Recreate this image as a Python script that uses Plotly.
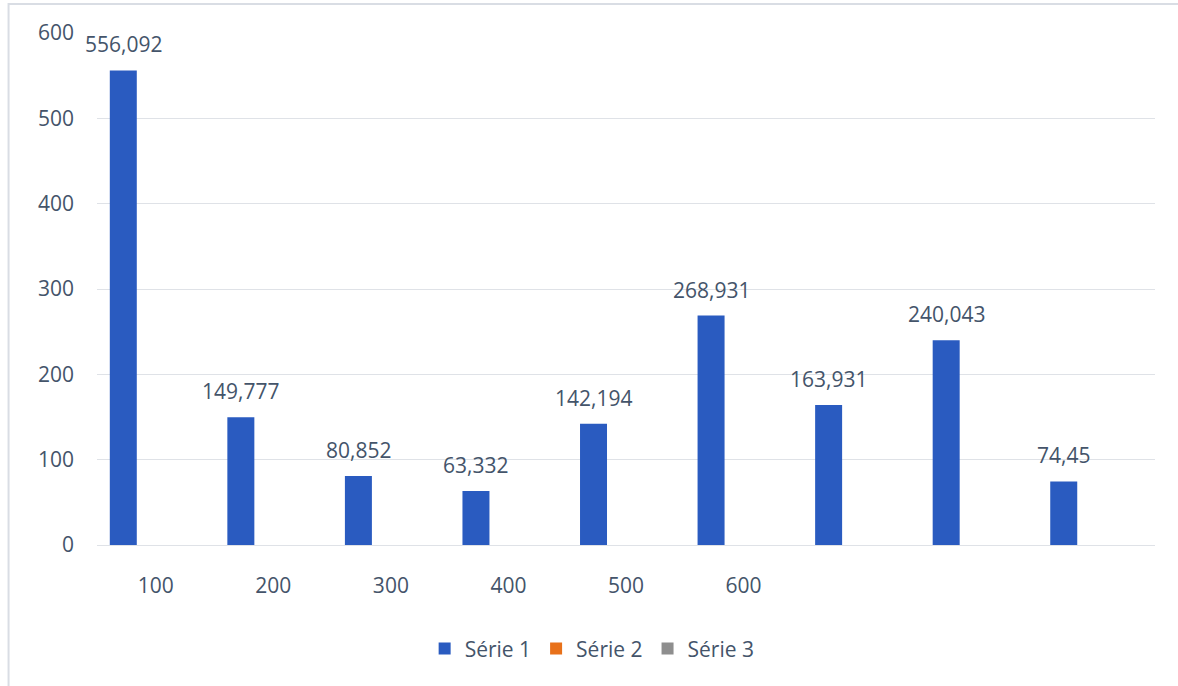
import plotly.graph_objects as go

# Category labels (last three slots carry no label)
categories = ["100", "200", "300", "400", "500", "600", "", "", ""]
serie_1 = [556.092, 149.777, 80.852, 63.332, 142.194, 268.931, 163.931, 240.043, 74.45]
serie_2 = [None] * 9
serie_3 = [None] * 9
value_labels = ["556,092", "149,777", "80,852", "63,332", "142,194",
                "268,931", "163,931", "240,043", "74,45"]
y_ticks = [0, 100, 200, 300, 400, 500, 600]

TEXT = "#44546a"
GRID = "#dfe2e7"
FONT = "Open Sans"
FS = 21

BARGAP = 0.171
GROUPGAP = 0.169
N_SERIES = 3

positions = list(range(len(categories)))

fig = go.Figure()
fig.add_trace(go.Bar(name="Série 1", x=positions, y=serie_1,
                     marker=dict(color="#2a5bc0", line=dict(width=0))))
fig.add_trace(go.Bar(name="Série 2", x=positions, y=serie_2,
                     marker=dict(color="#e8711a", line=dict(width=0))))
fig.add_trace(go.Bar(name="Série 3", x=positions, y=serie_3,
                     marker=dict(color="#8e8e8e", line=dict(width=0))))

# Value labels sit above the first bar of each group
slot = (1 - BARGAP) / N_SERIES
first_offset = -(1 - BARGAP) / 2 + slot / 2
for xi, v, lab in zip(positions, serie_1, value_labels):
    fig.add_annotation(x=xi + first_offset, y=v, text=lab, showarrow=False,
                       xref="x", yref="y", yanchor="bottom", yshift=10,
                       font=dict(family=FONT, size=FS, color=TEXT))

# Light outer frame of the chart area
fig.add_shape(type="rect", xref="paper", yref="paper",
              x0=-0.0836, x1=1.2, y0=-0.5, y1=1.0566,
              line=dict(color="#d9dde4", width=2), fillcolor="rgba(0,0,0,0)",
              layer="below")

fig.update_layout(
    width=1178, height=686,
    margin=dict(l=97, r=23, t=33, b=141),
    paper_bgcolor="white", plot_bgcolor="white",
    barmode="group", bargap=BARGAP, bargroupgap=GROUPGAP,
    font=dict(family=FONT, size=FS, color=TEXT),
    showlegend=True,
    legend=dict(orientation="h", x=0.468, xanchor="center", y=-0.203,
                yanchor="middle", font=dict(family=FONT, size=FS, color=TEXT),
                itemclick=False, traceorder="normal", itemwidth=30),
    xaxis=dict(range=[-0.5, len(categories) - 0.5], tickmode="array",
               tickvals=positions, ticktext=categories, showgrid=False,
               zeroline=False, showline=True, linecolor=GRID, linewidth=1,
               ticks="", ticklabelstandoff=22,
               tickfont=dict(family=FONT, size=FS, color=TEXT)),
    yaxis=dict(range=[0, 600], tickmode="array", tickvals=y_ticks,
               showgrid=True, gridcolor=GRID, gridwidth=1, zeroline=False,
               showline=False, ticks="", ticklabelstandoff=22,
               tickfont=dict(family=FONT, size=FS, color=TEXT)),
)

fig.write_html("out.html")
